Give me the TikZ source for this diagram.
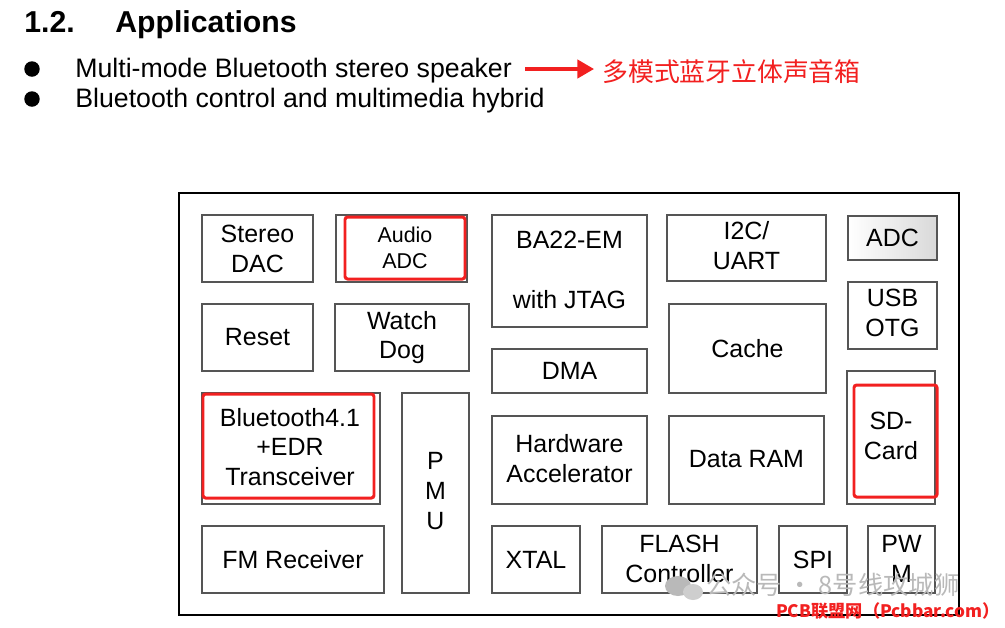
\documentclass[tikz,border=0pt]{standalone}
\usepackage{fontspec}
\setmainfont{Liberation Sans}
\newfontfamily\cjk{Noto Sans CJK SC}
\usetikzlibrary{arrows.meta}
\definecolor{hl}{RGB}{242,32,32}
\definecolor{edge}{RGB}{85,85,85}
\definecolor{wm}{RGB}{185,185,185}
\tikzset{
  blk/.style={draw=edge, line width=0.6pt},
  hlbox/.style={draw=hl, line width=1.7pt, rounded corners=1.5pt},
  lbl/.style={align=center, inner sep=0pt, font=\fontsize{14.2}{17}\selectfont},
  body/.style={anchor=base west, inner sep=0pt, font=\fontsize{15.2}{18}\selectfont},
  dot/.style={circle, fill=black, inner sep=0pt, minimum size=0.31cm},
}

\begin{document}
\begin{tikzpicture}[x=0.02cm, y=-0.02cm]
\useasboundingbox (0,0) rectangle (1005,627);

% heading and list
\node[body, font=\fontsize{17.2}{20}\selectfont\bfseries] (secnum) at (24,32) {1.2.};
\node[body, font=\fontsize{17.2}{20}\selectfont\bfseries] (sectitle) at (115,32) {Applications};
\node[dot] (dot1) at (32,69) {};
\node[body] (app1) at (75,77) {Multi-mode Bluetooth stereo speaker};
\node[dot] (dot2) at (32,99) {};
\node[body] (app2) at (75,107) {Bluetooth control and multimedia hybrid};
\node[anchor=west, inner sep=0pt, text=hl, font=\cjk\fontsize{14.7}{17}\selectfont] (app1cn) at (602,72) {多模式蓝牙立体声音箱};
\draw[hl, line width=1.8pt, -{Triangle[length=9.5pt, width=10.5pt]}]
  ([xshift=13*0.02cm]app1.east |- 0,69) -- ([xshift=-8*0.02cm]app1cn.west |- 0,69);

% chip frame
\draw[line width=0.8pt] (179,193) rectangle (959,615);

% left column
\draw[blk] (202,215) rectangle (313,282);
\node[lbl] (dac) at (257.5,248.5) {Stereo\\DAC};
\draw[blk] (336,215) rectangle (467,282);
\draw[hlbox] (345,217) rectangle (465,279);
\node[lbl, font=\fontsize{12.2}{14.5}\selectfont] (aadc) at (405,248) {Audio\\ADC};
\draw[blk] (202,304) rectangle (313,371);
\node[lbl] (reset) at (257.5,337.5) {Reset};
\draw[blk] (335,304) rectangle (469,371);
\node[lbl] (wdog) at (402,337.5) {Watch\\Dog};
\draw[blk] (202,393) rectangle (380,504);
\draw[hlbox] (203,394) rectangle (374,498);
\node[lbl] (bt) at (290,447) {Bluetooth4.1\\+EDR\\Transceiver};
\draw[blk] (402,393) rectangle (469,593);
\node[lbl] (pmu) at (435.5,491) {P\\M\\U};
\draw[blk] (202,526) rectangle (384,593);
\node[lbl] (fm) at (293,559.5) {FM Receiver};

% middle columns
\draw[blk] (492,215) rectangle (647,327);
\node[lbl] (cpu) at (569.5,270) {BA22-EM\\[17pt]with JTAG};
\draw[blk] (492,349) rectangle (647,393);
\node[lbl] (dma) at (569.5,371) {DMA};
\draw[blk] (492,416) rectangle (647,504);
\node[lbl] (hwacc) at (569.5,459) {Hardware\\Accelerator};
\draw[blk] (492,526) rectangle (580,593);
\node[lbl] (xtal) at (536,559.5) {XTAL};
\draw[blk] (667,215) rectangle (826,281);
\node[lbl] (i2c) at (746.5,246) {I2C/\\UART};
\draw[blk] (669,304) rectangle (826,393);
\node[lbl] (cache) at (747.5,348.5) {Cache};
\draw[blk] (669,416) rectangle (824,504);
\node[lbl] (dram) at (746.5,459) {Data RAM};
\draw[blk] (602,526) rectangle (757,593);
\node[lbl] (flash) at (679.5,558.5) {FLASH\\Controller};
\draw[blk] (779,526) rectangle (847,593);
\node[lbl] (spi) at (813,559.5) {SPI};

% right column
\shade[left color=white, right color=black!15] (848,216) rectangle (937,260);
\draw[blk] (848,216) rectangle (937,260);
\node[lbl] (adc) at (892.5,238) {ADC};
\draw[blk] (848,282) rectangle (937,349);
\node[lbl] (usb) at (892.5,313) {USB\\OTG};
\draw[blk] (847,371) rectangle (935,504);
\draw[hlbox] (854,385) rectangle (937,497);
\node[lbl] (sd) at (891,435.5) {SD-\\Card};
\draw[blk] (868,526) rectangle (935,593);
\node[lbl] (pwm) at (901.5,558.5) {PW\\M};

% watermark
\fill[wm] (678,586) ellipse (13 and 10);
\fill[wm!70] (693,592) ellipse (10 and 8);
\node[anchor=west, inner sep=0pt, text=wm, font=\cjk\fontsize{14.4}{16}\selectfont] (wm1) at (706,585) {公众号\ ·\ 8号线攻城狮};
\node[anchor=base east, inner sep=0pt, text=hl, font=\cjk\bfseries\fontsize{9.8}{11}\selectfont] (wm2) at (1000,617) {PCB联盟网（Pcbbar.com）};
\end{tikzpicture}
\end{document}
